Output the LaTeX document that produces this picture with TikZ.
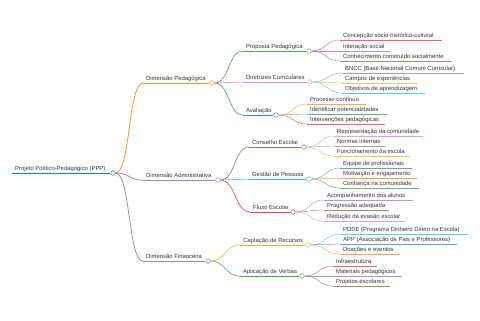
\documentclass[tikz,border=0pt]{standalone}
\usepackage{fontspec}
\setmainfont{Liberation Sans}
\usepackage{tikz}
\usetikzlibrary{positioning}
\definecolor{ink}{HTML}{333333}
\definecolor{tblue}{HTML}{1F77B4}
\definecolor{torange}{HTML}{FF7F0E}
\definecolor{tgreen}{HTML}{2CA02C}
\definecolor{tred}{HTML}{D62728}
\definecolor{tpurple}{HTML}{9467BD}
\definecolor{tbrown}{HTML}{8C564B}
\definecolor{tpink}{HTML}{E377C2}
\definecolor{tgray}{HTML}{7F7F7F}
\definecolor{tolive}{HTML}{BCBD22}
\definecolor{tcyan}{HTML}{17BECF}
\pgfdeclarelayer{bg}
\pgfsetlayers{bg,main}

\begin{document}
\begin{tikzpicture}[
    x=0.5mm, y=-0.5mm,
    txt/.style={anchor=base west, inner sep=0pt, text=ink,
                font=\fontsize{8.4}{10}\selectfont, xshift=1.5mm, yshift=1.3mm},
    dot/.style={circle, draw=#1, fill=white, line width=0.7pt,
                inner sep=0pt, minimum size=2.3mm},
    link/.style={out=0, in=180, distance=7.5mm}]

  \useasboundingbox (0,0) rectangle (480,320);
  \begin{pgfonlayer}{bg}
    \fill[white] (0,0) rectangle (480,320);
  \end{pgfonlayer}

  % root
  \coordinate (root-l) at (12,173);
  \node[txt] (root) at (root-l) {Projeto Político-Pedagógico (PPP)};
  \node[dot=tblue] (root-o) at (113,173) {};
  \begin{pgfonlayer}{bg}
    \draw[tblue, line width=1.4pt] (root-l) -- (root-o);
  \end{pgfonlayer}

  % dimensions and their branches
  \foreach \p/\n/\c/\w/\xs/\xc/\y/\t in {
      root/ped/torange/1.1/143/212/83/Dimensão Pedagógica,
      root/adm/tpurple/1.1/143/218/180/Dimensão Administrativa,
      root/fin/tgray/1.1/143/208/261/Dimensão Financeira,
      ped/prop/tgreen/0.85/243/309/51/Proposta Pedagógica,
      ped/dir/tpink/0.85/243/310/82/Diretrizes Curriculares,
      ped/aval/tblue/0.85/243/276/115/Avaliação,
      adm/cons/tbrown/0.85/249/304/147/Conselho Escolar,
      adm/gest/tcyan/0.85/249/309/179/Gestão de Pessoas,
      adm/flux/tred/0.85/250/293/212/Fluxo Escolar,
      fin/capt/tolive/0.85/240/308/245/Captação de Recursos,
      fin/apl/tgreen/0.85/240/302/276/Aplicação de Verbas}
  {
    \coordinate (\n-l) at (\xs,\y);
    \node[txt] (\n) at (\n-l) {\t};
    \node[dot=\c!85] (\n-o) at (\xc,\y) {};
    \begin{pgfonlayer}{bg}
      \draw[\c!85, line width=\w pt] (\n-l) -- (\n-o);
      \draw[\c!85, line width=\w pt, link] (\p-o) to (\n-l);
    \end{pgfonlayer}
  }

  % leaves
  \foreach \p/\n/\c/\xs/\xe/\y/\t in {
      prop/pr1/tred/340/442/40/Concepção sócio-histórico-cultural,
      prop/pr2/tpurple/340/390/51/Interação social,
      prop/pr3/tbrown/340/452/61/Conhecimento construído socialmente,
      dir/di1/tgray/342/464/73/BNCC (Base Nacional Comum Curricular),
      dir/di2/tolive/342/417/83/Campos de experiências,
      dir/di3/tcyan/342/425/93/Objetivos de aprendizagem,
      aval/av1/torange/307/366/104/Processo contínuo,
      aval/av2/tgreen/307/387/114/Identificar potencialidades,
      aval/av3/tred/307/385/124/Intervenções pedagógicas,
      cons/co1/tpink/334/423/136/Representação da comunidade,
      cons/co2/tgray/334/385/146/Normas internas,
      cons/co3/tolive/334/410/156/Funcionamento da escola,
      gest/ge1/tblue/340/412/168/Equipe de profissionais,
      gest/ge2/torange/340/417/178/Motivação e engajamento,
      gest/ge3/tgreen/340/419/188/Confiança na comunidade,
      flux/fl1/tpurple/324/413/200/Acompanhamento dos alunos,
      flux/fl2/tbrown/324/389/210/Progressão adequada,
      flux/fl3/tpink/324/405/221/Redução da evasão escolar,
      capt/ca1/tcyan/340/468/234/PDDE (Programa Dinheiro Direto na Escola),
      capt/ca2/tblue/340/457/244/APP (Associação de Pais e Professores),
      capt/ca3/torange/340/399/254/Doações e eventos,
      apl/ap1/tred/333/377/266/Infraestrutura,
      apl/ap2/tpurple/333/402/276/Materiais pedagógicos,
      apl/ap3/tbrown/333/390/286/Projetos escolares}
  {
    \coordinate (\n-l) at (\xs,\y);
    \coordinate (\n-r) at (\xe,\y);
    \node[txt] (\n) at (\n-l) {\t};
    \begin{pgfonlayer}{bg}
      \draw[\c!70, line width=0.65pt] (\n-l) -- (\n-r);
      \draw[\c!70, line width=0.65pt, link] (\p-o) to (\n-l);
    \end{pgfonlayer}
  }
\end{tikzpicture}
\end{document}
